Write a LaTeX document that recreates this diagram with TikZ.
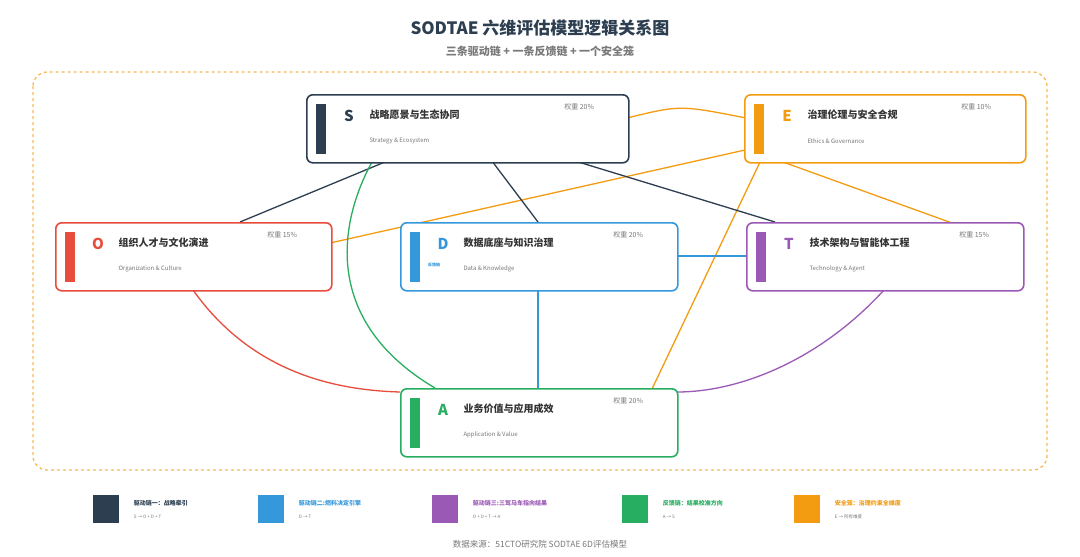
\documentclass[tikz,border=0pt]{standalone}
\usepackage{fontspec}
\setmainfont{Noto Sans CJK SC}
\usetikzlibrary{positioning}
\definecolor{cS}{RGB}{44,62,80}
\definecolor{cO}{RGB}{231,76,60}
\definecolor{cD}{RGB}{52,152,219}
\definecolor{cT}{RGB}{155,89,182}
\definecolor{cA}{RGB}{39,174,96}
\definecolor{cE}{RGB}{243,156,18}
\definecolor{cTxt}{RGB}{51,51,51}
\definecolor{cSub}{RGB}{120,120,120}
\tikzset{
  dim/.style={draw=#1, line width=1.6pt, rounded corners=6pt, fill=white,
    minimum width=276pt, minimum height=68pt, anchor=north west},
  link/.style={draw=#1, line width=1.3pt},
  sq/.style={fill=#1, minimum width=26pt, minimum height=28pt, inner sep=0pt},
}
% one dimension box: name, x, y, width, colour, letter, title, english, weight
\newcommand{\dimbox}[9]{%
  \node[dim=#5, minimum width=#4pt] (#1) at (#2,#3) {};
  \fill[#5] ([xshift=10pt,yshift=-10pt]#1.north west) rectangle ([xshift=20pt,yshift=10pt]#1.south west);
  \node[text=#5, font=\bfseries\fontsize{15}{15}\selectfont] (#1-l) at ([xshift=43pt,yshift=-22pt]#1.north west) {#6};
  \node[text=cTxt, font=\bfseries\fontsize{10}{10}\selectfont, anchor=west] (#1-t) at ([xshift=60pt,yshift=-21pt]#1.north west) {#7};
  \node[text=cSub, font=\fontsize{6}{6}\selectfont, anchor=west] (#1-e) at ([xshift=60pt,yshift=-47pt]#1.north west) {#8};
  \node[text=cSub, font=\fontsize{7}{7}\selectfont, anchor=east] (#1-w) at ([xshift=-32pt,yshift=-13pt]#1.north east) {权重 #9};
}
\begin{document}
\begin{tikzpicture}[x=1pt,y=-1pt]
  \fill[white] (0,0) rectangle (1080,557);
  \useasboundingbox (0,0) rectangle (1080,557);
  % Title
  \node[text=cS, font=\bfseries\fontsize{17}{17}\selectfont] (title) at (540,28) {SODTAE 六维评估模型逻辑关系图};
  \node[text=cSub, font=\bfseries\fontsize{11}{11}\selectfont] (sub) at (540,51) {三条驱动链 + 一条反馈链 + 一个安全笼};
  % Safety cage
  \draw[cE!70, dashed, line width=1.3pt, rounded corners=14pt] (33,72) rectangle (1047,470);
  % Link end points
  \coordinate (S0) at (467,128); \coordinate (D0) at (538,256);
  \coordinate (T0) at (884,256); \coordinate (A0) at (538,422);
  \coordinate (es) at (627,118); \coordinate (ee) at (746,118);
  \coordinate (eo) at (745,150); \coordinate (oe) at (330,243);
  \coordinate (et) at (783,162); \coordinate (te) at (952,223);
  \coordinate (ea) at (760,162); \coordinate (ae) at (652,389);
  % Links
  \draw[link=cE] (es) .. controls (680,105) .. (ee);
  \draw[link=cE] (oe) -- (eo);
  \draw[link=cE] (et) -- (te);
  \draw[link=cE] (ea) -- (ae);
  \draw[link=cS] (S0) -- (240,222);
  \draw[link=cS] (S0) -- (538,222);
  \draw[link=cS] (S0) -- (775,222);
  \draw[link=cD] (D0) -- (T0);
  \draw[link=cD] (D0) -- (A0);
  \draw[link=cO] (193,290) .. controls (250,370) and (330,390) .. (400,392);
  \draw[link=cT] (884,290) .. controls (820,360) and (740,392) .. (677,392);
  \draw[link=cA] (435,388) .. controls (320,320) and (340,220) .. (372,162);
  % Boxes
  \dimbox{S}{306}{94}{322}{cS}{S}{战略愿景与生态协同}{Strategy \& Ecosystem}{20\%}
  \dimbox{E}{744}{94}{281}{cE}{E}{治理伦理与安全合规}{Ethics \& Governance}{10\%}
  \dimbox{O}{55}{222}{276}{cO}{O}{组织人才与文化演进}{Organization \& Culture}{15\%}
  \dimbox{D}{400}{222}{277}{cD}{D}{数据底座与知识治理}{Data \& Knowledge}{20\%}
  \dimbox{T}{746}{222}{277}{cT}{T}{技术架构与智能体工程}{Technology \& Agent}{15\%}
  \dimbox{A}{400}{388}{277}{cA}{A}{业务价值与应用成效}{Application \& Value}{20\%}
  \node[text=cD, font=\bfseries\fontsize{4}{4}\selectfont] (D-f) at (434,265) {反馈链};
  % Legend
  \foreach \nm/\xx/\cc/\ttl/\rul in {
      l1/93/cS/驱动链一：战略牵引/S → O + D + T,
      l2/258/cD/驱动链二:燃料决定引擎/D → T,
      l3/432/cT/驱动链三:三驾马车指向结果/O + D + T → A,
      l4/622/cA/反馈链：结果校准方向/A → S,
      l5/794/cE/安全笼：治理约束全维度/E → 所有维度} {
    \node[sq=\cc, anchor=north west] (\nm) at (\xx,495) {};
    \node[text=\ifx\cc cS cTxt\else\cc\fi, font=\bfseries\fontsize{6}{6}\selectfont, anchor=west] (\nm-t) at ([xshift=11pt,yshift=6pt]\nm.east) {\ttl};
    \node[text=cSub, font=\fontsize{4.5}{4.5}\selectfont, anchor=west] (\nm-r) at ([xshift=11pt,yshift=-8pt]\nm.east) {\rul};
  }
  \node[text=cSub, font=\fontsize{8.5}{8.5}\selectfont] (src) at (540,544) {数据来源：51CTO研究院 SODTAE 6D评估模型};
\end{tikzpicture}
\end{document}
